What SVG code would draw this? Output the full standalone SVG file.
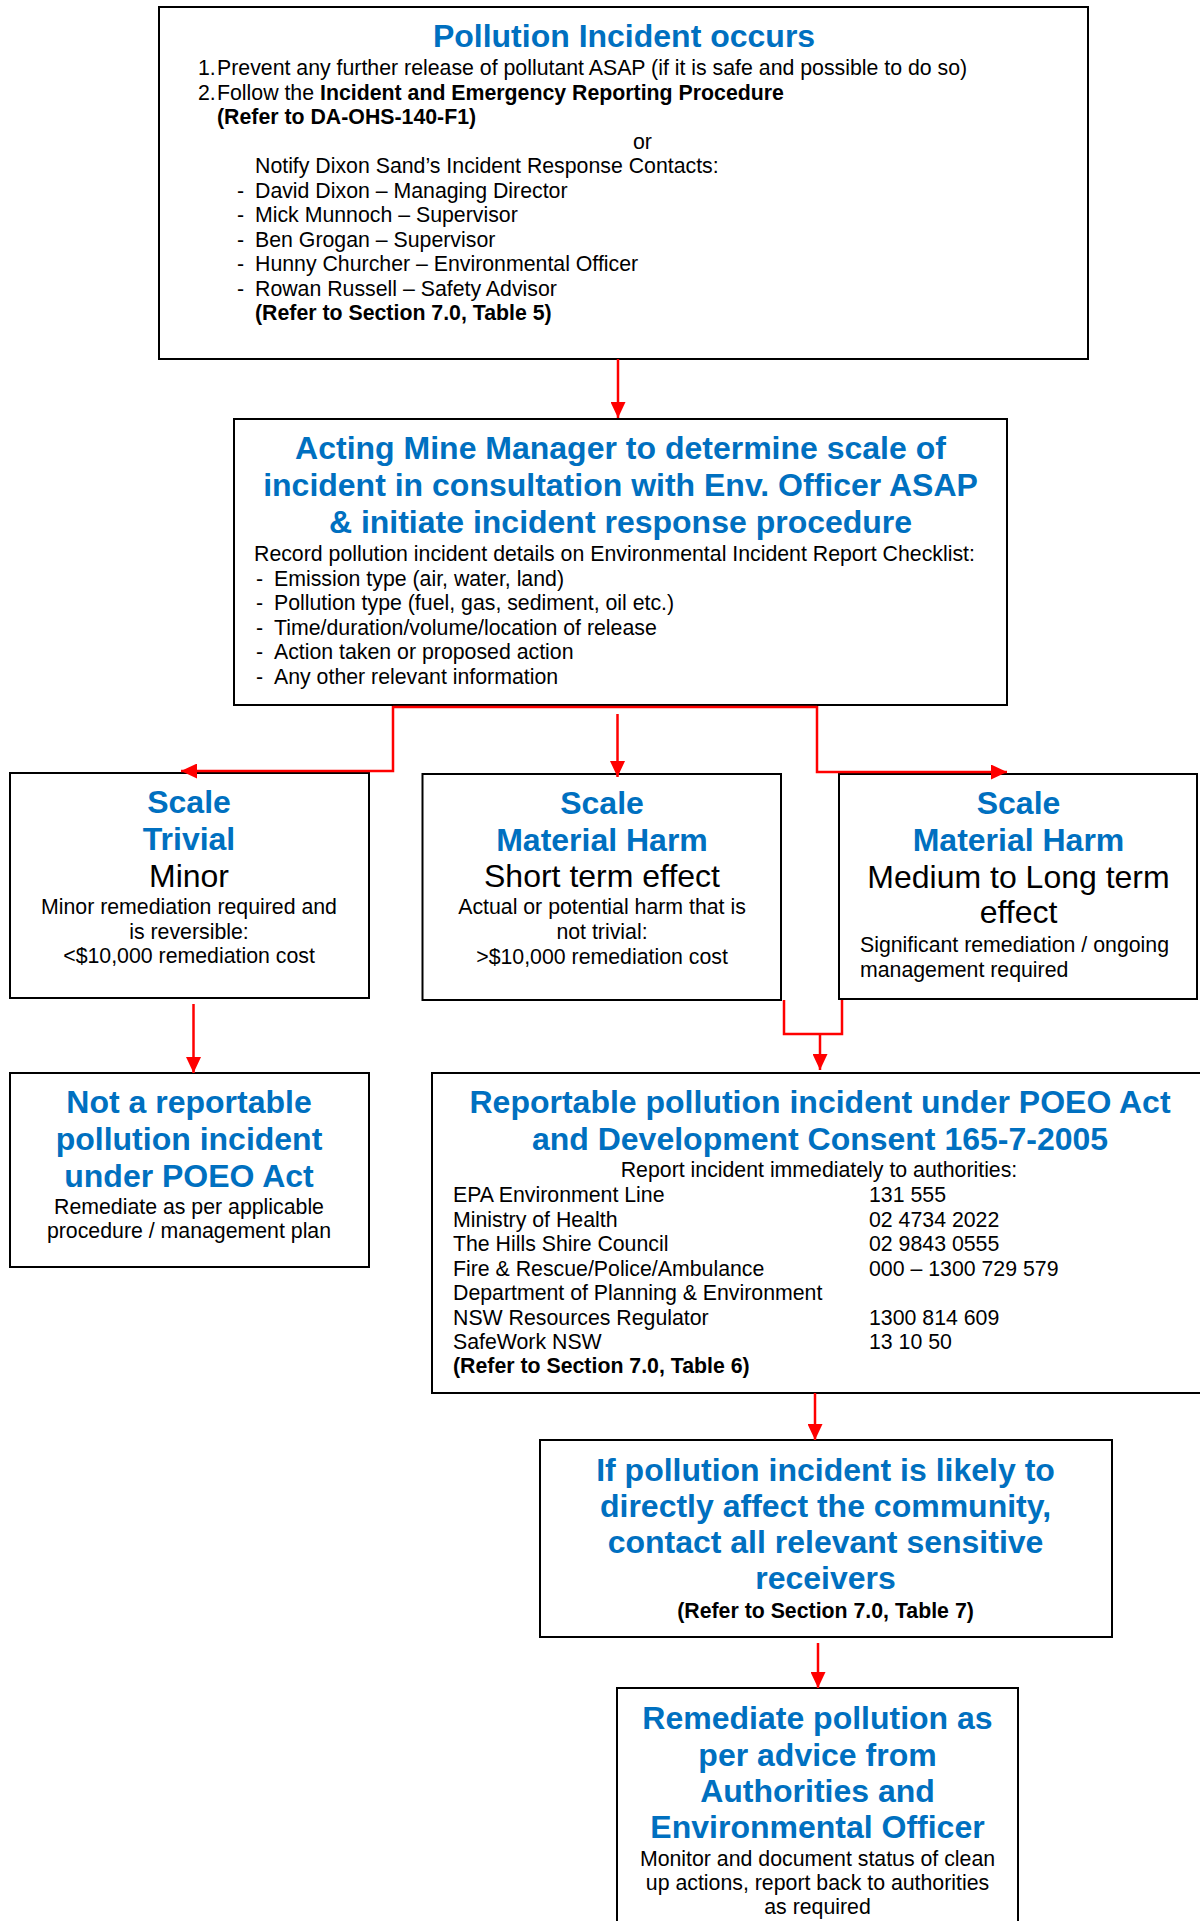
<svg xmlns="http://www.w3.org/2000/svg" width="1200" height="1921" viewBox="0 0 1200 1921">
<style>
text{font-family:"Liberation Sans",Arial,sans-serif;fill:#000}
.box{fill:#fff;stroke:#000;stroke-width:2}
.t{font-size:32px;font-weight:bold;fill:#0070C0;text-anchor:middle}
.big{font-size:32px;text-anchor:middle}
.b{font-size:21.3px}
.c{text-anchor:middle}
.bold{font-weight:bold}
.con{fill:none;stroke:#FF0000;stroke-width:2.5}
</style>
<defs>
<marker id="ah" markerUnits="userSpaceOnUse" markerWidth="16" markerHeight="15" refX="16" refY="7.5" orient="auto" viewBox="0 0 16 15">
<path d="M0,0 L16,7.5 L0,15 z" fill="#FF0000"/>
</marker>
</defs>
<rect width="1200" height="1921" fill="#fff"/>

<g id="n1">
<rect class="box" x="159" y="7" width="929" height="352"/>
<text class="t" x="624" y="47">Pollution Incident occurs</text>
<text class="b" x="198" y="75">1.</text><text class="b" x="217" y="75">Prevent any further release of pollutant ASAP (if it is safe and possible to do so)</text>
<text class="b" x="198" y="99.5">2.</text><text class="b" x="217" y="99.5">Follow the <tspan class="bold">Incident and Emergency Reporting Procedure</tspan></text>
<text class="b bold" x="217" y="124">(Refer to DA-OHS-140-F1)</text>
<text class="b" x="633" y="148.5">or</text>
<text class="b" x="255" y="173">Notify Dixon Sand’s Incident Response Contacts:</text>
<text class="b" x="237" y="197.5">-</text><text class="b" x="255" y="197.5">David Dixon – Managing Director</text>
<text class="b" x="237" y="222">-</text><text class="b" x="255" y="222">Mick Munnoch – Supervisor</text>
<text class="b" x="237" y="246.5">-</text><text class="b" x="255" y="246.5">Ben Grogan – Supervisor</text>
<text class="b" x="237" y="271">-</text><text class="b" x="255" y="271">Hunny Churcher – Environmental Officer</text>
<text class="b" x="237" y="295.5">-</text><text class="b" x="255" y="295.5">Rowan Russell – Safety Advisor</text>
<text class="b bold" x="255" y="320">(Refer to Section 7.0, Table 5)</text>
</g>

<g id="n2">
<rect class="box" x="234" y="419" width="773" height="286"/>
<text class="t" x="620.5" y="459">Acting Mine Manager to determine scale of</text>
<text class="t" x="620.5" y="496">incident in consultation with Env. Officer ASAP</text>
<text class="t" x="620.5" y="533">&amp; initiate incident response procedure</text>
<text class="b" x="254" y="561">Record pollution incident details on Environmental Incident Report Checklist:</text>
<text class="b" x="256" y="585.5">-</text><text class="b" x="274" y="585.5">Emission type (air, water, land)</text>
<text class="b" x="256" y="610">-</text><text class="b" x="274" y="610">Pollution type (fuel, gas, sediment, oil etc.)</text>
<text class="b" x="256" y="634.5">-</text><text class="b" x="274" y="634.5">Time/duration/volume/location of release</text>
<text class="b" x="256" y="659">-</text><text class="b" x="274" y="659">Action taken or proposed action</text>
<text class="b" x="256" y="683.5">-</text><text class="b" x="274" y="683.5">Any other relevant information</text>
</g>

<g id="n3">
<rect class="box" x="10" y="773" width="359" height="225"/>
<text class="t" x="189" y="813">Scale</text>
<text class="t" x="189" y="850">Trivial</text>
<text class="big" x="189" y="887">Minor</text>
<text class="b c" x="189" y="914">Minor remediation required and</text>
<text class="b c" x="189" y="938.5">is reversible:</text>
<text class="b c" x="189" y="963">&lt;$10,000 remediation cost</text>
</g>

<g id="n4">
<rect class="box" x="422.5" y="774" width="358.5" height="226"/>
<text class="t" x="602" y="814">Scale</text>
<text class="t" x="602" y="851">Material Harm</text>
<text class="big" x="602" y="887">Short term effect</text>
<text class="b c" x="602" y="914">Actual or potential harm that is</text>
<text class="b c" x="602" y="939">not trivial:</text>
<text class="b c" x="602" y="964">&gt;$10,000 remediation cost</text>
</g>

<g id="n5">
<rect class="box" x="839" y="774" width="358" height="225"/>
<text class="t" x="1018.5" y="814">Scale</text>
<text class="t" x="1018.5" y="851">Material Harm</text>
<text class="big" x="1018.5" y="888">Medium to Long term</text>
<text class="big" x="1018.5" y="923">effect</text>
<text class="b" x="860" y="952">Significant remediation / ongoing</text>
<text class="b" x="860" y="977">management required</text>
</g>

<g id="n6">
<rect class="box" x="10" y="1073" width="359" height="194"/>
<text class="t" x="189" y="1113">Not a reportable</text>
<text class="t" x="189" y="1150">pollution incident</text>
<text class="t" x="189" y="1187">under POEO Act</text>
<text class="b c" x="189" y="1214">Remediate as per applicable</text>
<text class="b c" x="189" y="1238">procedure / management plan</text>
</g>

<g id="n7">
<rect class="box" x="432" y="1073" width="790" height="320"/>
<text class="t" x="820" y="1113">Reportable pollution incident under POEO Act</text>
<text class="t" x="820" y="1150">and Development Consent 165-7-2005</text>
<text class="b c" x="819" y="1177">Report incident immediately to authorities:</text>
<text class="b" x="453" y="1202">EPA Environment Line</text><text class="b" x="869" y="1202">131 555</text>
<text class="b" x="453" y="1226.5">Ministry of Health</text><text class="b" x="869" y="1226.5">02 4734 2022</text>
<text class="b" x="453" y="1251">The Hills Shire Council</text><text class="b" x="869" y="1251">02 9843 0555</text>
<text class="b" x="453" y="1275.5">Fire &amp; Rescue/Police/Ambulance</text><text class="b" x="869" y="1275.5">000 – 1300 729 579</text>
<text class="b" x="453" y="1300">Department of Planning &amp; Environment</text>
<text class="b" x="453" y="1324.5">NSW Resources Regulator</text><text class="b" x="869" y="1324.5">1300 814 609</text>
<text class="b" x="453" y="1349">SafeWork NSW</text><text class="b" x="869" y="1349">13 10 50</text>
<text class="b bold" x="453" y="1373">(Refer to Section 7.0, Table 6)</text>
</g>

<g id="n8">
<rect class="box" x="540" y="1440" width="572" height="197"/>
<text class="t" x="825.5" y="1481">If pollution incident is likely to</text>
<text class="t" x="825.5" y="1517">directly affect the community,</text>
<text class="t" x="825.5" y="1553">contact all relevant sensitive</text>
<text class="t" x="825.5" y="1589">receivers</text>
<text class="b bold c" x="825.5" y="1618">(Refer to Section 7.0, Table 7)</text>
</g>

<g id="n9">
<rect class="box" x="617" y="1688" width="401" height="250"/>
<text class="t" x="817.5" y="1729">Remediate pollution as</text>
<text class="t" x="817.5" y="1766">per advice from</text>
<text class="t" x="817.5" y="1802">Authorities and</text>
<text class="t" x="817.5" y="1838">Environmental Officer</text>
<text class="b c" x="817.5" y="1866">Monitor and document status of clean</text>
<text class="b c" x="817.5" y="1890">up actions, report back to authorities</text>
<text class="b c" x="817.5" y="1914">as required</text>
</g>

<g id="connectors">
<line class="con" x1="618" y1="359" x2="618" y2="418" marker-end="url(#ah)"/>
<line class="con" x1="393" y1="707" x2="817" y2="707"/>
<polyline class="con" points="393,706 393,771 181,771" marker-end="url(#ah)"/>
<polyline class="con" points="817,706 817,772 1007,772" marker-end="url(#ah)"/>
<line class="con" x1="617.5" y1="714" x2="617.5" y2="777" marker-end="url(#ah)"/>
<line class="con" x1="193.5" y1="1004" x2="193.5" y2="1073" marker-end="url(#ah)"/>
<polyline class="con" points="784,1000 784,1034 842,1034 842,1000"/>
<line class="con" x1="820" y1="1034" x2="820" y2="1070" marker-end="url(#ah)"/>
<line class="con" x1="815" y1="1393" x2="815" y2="1440" marker-end="url(#ah)"/>
<line class="con" x1="818" y1="1643" x2="818" y2="1688" marker-end="url(#ah)"/>
</g>
</svg>
